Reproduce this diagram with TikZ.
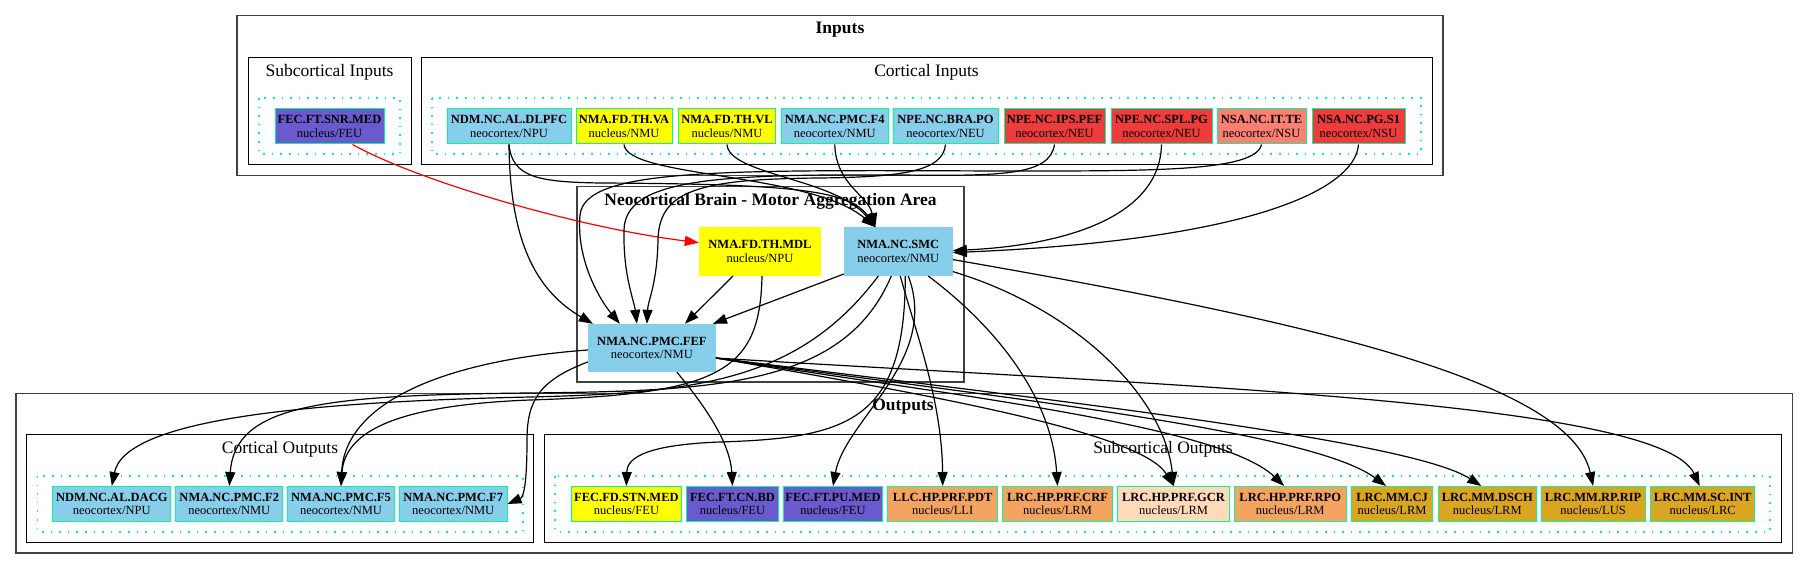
\documentclass[tikz,border=0pt]{standalone}
\usepackage{fontspec}
\setmainfont{Liberation Serif}
\usetikzlibrary{arrows.meta,calc}
\definecolor{skyb}{HTML}{87CEEB}
\definecolor{yel}{HTML}{FFFF00}
\definecolor{slb}{HTML}{6A5ACD}
\definecolor{rd}{HTML}{EE3B3B}
\definecolor{salm}{HTML}{FA8072}
\definecolor{sandy}{HTML}{F4A460}
\definecolor{peach}{HTML}{FFDAB9}
\definecolor{gold}{HTML}{DAA520}
\definecolor{sprg}{HTML}{00FA9A}
\begin{document}
\begin{tikzpicture}[x=1pt,y=-1pt,
  nbox/.style={draw=sprg, line width=1pt, inner sep=0pt, align=center, font=\fontsize{12.5}{13.5}\selectfont, minimum height=35pt},
  cbox/.style={inner sep=0pt, align=center, font=\fontsize{12.5}{13.5}\selectfont, minimum height=48.5pt},
  clus/.style={draw=black, line width=1pt},
  outer/.style={draw=black!75, line width=1.6pt},
  dotc/.style={draw=sprg, line width=1.6pt, dash pattern=on 1.6pt off 7pt},
  ctitle/.style={font=\fontsize{17.5}{17.5}\selectfont, inner sep=0pt},
  btitle/.style={font=\bfseries\fontsize{17.5}{17.5}\selectfont, inner sep=0pt},
  edge/.style={draw=black, line width=1.2pt, -{Triangle[length=14pt,width=10pt]}},
]
\useasboundingbox[fill=white] (0,0) rectangle (1808,569);
% clusters
\draw[outer] (237,15.7) rectangle (1443,175.7);
\node[btitle] (tin) at (840,30) {Inputs};
\draw[clus] (248,57.3) rectangle (411,165);
\node[ctitle] (tsi) at (329.5,72) {Subcortical Inputs};
\draw[dotc] (259,98) rectangle (400,154);
\draw[clus] (421,57.3) rectangle (1432,165);
\node[ctitle] (tci) at (926.5,72) {Cortical Inputs};
\draw[dotc] (432,98) rectangle (1421,154);
\draw[outer] (577,186.7) rectangle (964,382);
\node[btitle] (tmid) at (770.5,201) {Neocortical Brain - Motor Aggregation Area};
\draw[outer] (16,393.3) rectangle (1792.5,553);
\node[btitle] (tout) at (903,407) {Outputs};
\draw[clus] (26.8,434.3) rectangle (533,542.7);
\node[ctitle] (tco) at (280,449.3) {Cortical Outputs};
\draw[dotc] (37.5,476) rectangle (523,531.7);
\draw[clus] (544.5,434.3) rectangle (1781.5,542.7);
\node[ctitle] (tso) at (1163,449.3) {Subcortical Outputs};
\draw[dotc] (555,476) rectangle (1770,531.7);
% input nodes
\node[nbox, fill=slb, minimum width=109pt] (snr) at (329.5,126.5) {\textbf{FEC.FT.SNR.MED}\\nucleus/FEU};
\node[nbox, fill=skyb, minimum width=124pt] (dlpfc) at (509,126.5) {\textbf{NDM.NC.AL.DLPFC}\\neocortex/NPU};
\node[nbox, fill=yel, minimum width=96pt] (va) at (624,126.5) {\textbf{NMA.FD.TH.VA}\\nucleus/NMU};
\node[nbox, fill=yel, minimum width=96.5pt] (vl) at (727,126.5) {\textbf{NMA.FD.TH.VL}\\nucleus/NMU};
\node[nbox, fill=skyb, minimum width=107.5pt] (f4) at (834.75,126.5) {\textbf{NMA.NC.PMC.F4}\\neocortex/NMU};
\node[nbox, fill=skyb, minimum width=105pt] (brapo) at (945.5,126.5) {\textbf{NPE.NC.BRA.PO}\\neocortex/NEU};
\node[nbox, fill=rd, minimum width=101pt] (ipspef) at (1054.5,126.5) {\textbf{NPE.NC.IPS.PEF}\\neocortex/NEU};
\node[nbox, fill=rd, minimum width=101pt] (splpg) at (1161.5,126.5) {\textbf{NPE.NC.SPL.PG}\\neocortex/NEU};
\node[nbox, fill=salm, minimum width=89pt] (itte) at (1261.5,126.5) {\textbf{NSA.NC.IT.TE}\\neocortex/NSU};
\node[nbox, fill=rd, minimum width=93pt] (pgs1) at (1358.5,126.5) {\textbf{NSA.NC.PG.S1}\\neocortex/NSU};
% middle nodes
\node[cbox, fill=yel, minimum width=122pt] (mdl) at (760,251.6) {\textbf{NMA.FD.TH.MDL}\\nucleus/NPU};
\node[cbox, fill=skyb, minimum width=108.7pt] (smc) at (898.3,251.6) {\textbf{NMA.NC.SMC}\\neocortex/NMU};
\node[cbox, fill=skyb, minimum width=127.7pt, minimum height=48pt] (fef) at (651.9,348) {\textbf{NMA.NC.PMC.FEF}\\neocortex/NMU};
% output nodes
\node[nbox, fill=skyb, minimum width=117.8pt] (dacg) at (111.8,504) {\textbf{NDM.NC.AL.DACG}\\neocortex/NPU};
\node[nbox, fill=skyb, minimum width=107.2pt] (f2) at (229.3,504) {\textbf{NMA.NC.PMC.F2}\\neocortex/NMU};
\node[nbox, fill=skyb, minimum width=107.1pt] (f5) at (341,504) {\textbf{NMA.NC.PMC.F5}\\neocortex/NMU};
\node[nbox, fill=skyb, minimum width=107.7pt] (f7) at (453.2,504) {\textbf{NMA.NC.PMC.F7}\\neocortex/NMU};
\node[nbox, fill=yel, minimum width=109.8pt] (stn) at (626.4,504) {\textbf{FEC.FD.STN.MED}\\nucleus/FEU};
\node[nbox, fill=slb, minimum width=92.5pt] (cnbd) at (732.5,504) {\textbf{FEC.FT.CN.BD}\\nucleus/FEU};
\node[nbox, fill=slb, minimum width=98.7pt] (pumed) at (833,504) {\textbf{FEC.FT.PU.MED}\\nucleus/FEU};
\node[nbox, fill=sandy, minimum width=109.9pt] (pdt) at (942.7,504) {\textbf{LLC.HP.PRF.PDT}\\nucleus/LLI};
\node[nbox, fill=sandy, minimum width=109.9pt] (crf) at (1057.5,504) {\textbf{LRC.HP.PRF.CRF}\\nucleus/LRM};
\node[nbox, fill=peach, minimum width=112.3pt] (gcr) at (1173.6,504) {\textbf{LRC.HP.PRF.GCR}\\nucleus/LRM};
\node[nbox, fill=sandy, minimum width=111.9pt] (rpo) at (1290.2,504) {\textbf{LRC.HP.PRF.RPO}\\nucleus/LRM};
\node[nbox, fill=gold, minimum width=80.5pt] (cj) at (1392.1,504) {\textbf{LRC.MM.CJ}\\nucleus/LRM};
\node[nbox, fill=gold, minimum width=97.7pt] (dsch) at (1487.3,504) {\textbf{LRC.MM.DSCH}\\nucleus/LRM};
\node[nbox, fill=gold, minimum width=104.2pt] (rip) at (1593.1,504) {\textbf{LRC.MM.RP.RIP}\\nucleus/LUS};
\node[nbox, fill=gold, minimum width=103.7pt] (scint) at (1702.7,504) {\textbf{LRC.MM.SC.INT}\\nucleus/LRC};
\coordinate (smcin) at ($(smc.north)+(-23,0)$);
% edges into middle
\draw[edge,red] ($(snr.south)+(23,0)$) .. controls (420,182) and (580,228) .. ($(mdl.west)+(0,-9)$);
\draw[edge] (dlpfc.south) .. controls (510,240) and (535,290) .. ($(fef.north west)+(5,0)$);
\draw[edge] (dlpfc.south) .. controls (512,178) and (540,182) .. (600,183) .. controls (790,184) and (850,190) .. (smcin);
\draw[edge] (va.south) .. controls (627,178) and (810,172) .. (smcin);
\draw[edge] (vl.south) .. controls (729,175) and (835,178) .. (smcin);
\draw[edge] (f4.south) .. controls (836,185) and (868,195) .. (smcin);
\draw[edge] (brapo.south) .. controls (943,172) and (900,177) .. (820,178) .. controls (700,179) and (659,190) .. (658,240) .. controls (657,285) and (648,300) .. ($(fef.north)+(-5,0)$);
\draw[edge] (ipspef.south) .. controls (1050,176) and (1000,176) .. (900,175) .. controls (720,174) and (625,178) .. (624,230) .. controls (623,275) and (634,300) .. ($(fef.north)+(-15,0)$);
\draw[edge] (itte.south) .. controls (1256,172) and (1150,171) .. (1000,171) .. controls (720,170) and (585,168) .. (580,215) .. controls (576,260) and (600,300) .. ($(fef.north)+(-32,0)$);
\draw[edge] ($(mdl.south)+(-27,0)$) -- ($(fef.north)+(33,0)$);
\draw[edge] ($(smc.south west)+(0,-2)$) -- ($(fef.north east)+(-3,0)$);
\draw[edge] (splpg.south) .. controls (1160,215) and (1070,245) .. ($(smc.east)+(0,-1)$);
\draw[edge] (pgs1.south) .. controls (1355,190) and (1250,240) .. ($(smc.east)+(0,1)$);
% edges to outputs
\draw[edge] ($(smc.south)+(-20,0)$) .. controls (800,380) and (700,393) .. (530,397) .. controls (300,402) and (125,420) .. (dacg.north);
\draw[edge] ($(smc.south)+(-7,0)$) .. controls (845,385) and (720,391) .. (530,393) .. controls (320,395) and (235,405) .. (f2.north);
\draw[edge] ($(mdl.south)+(2,0)$) .. controls (760,372) and (720,394) .. (530,400) .. controls (400,405) and (345,430) .. (f5.north);
\draw[edge] ($(fef.west)+(0,2)$) .. controls (450,360) and (345,400) .. (f5.north);
\draw[edge] ($(fef.west)+(0,14)$) .. controls (540,380) and (527,400) .. (527,440) .. controls (527,482) and (524,497) .. (f7.east);
\draw[edge] ($(fef.south)+(25,0)$) .. controls (700,400) and (730,440) .. (cnbd.north);
\draw[edge] ($(fef.east)+(0,10)$) .. controls (900,390) and (1140,430) .. (gcr.north);
\draw[edge] ($(fef.east)+(0,10)$) .. controls (950,395) and (1220,425) .. ($(rpo.north)+(-6,0)$);
\draw[edge] ($(fef.east)+(0,10)$) .. controls (1000,398) and (1310,430) .. ($(cj.north)+(-6,0)$);
\draw[edge] ($(fef.east)+(0,10)$) .. controls (1050,400) and (1410,440) .. ($(dsch.north)+(-6,0)$);
\draw[edge] ($(fef.east)+(0,10)$) .. controls (1150,385) and (1660,400) .. ($(scint.north)+(-3,0)$);
\draw[edge] ($(smc.south)+(7,0)$) .. controls (905,420) and (850,438) .. (720,442) .. controls (640,445) and (627,460) .. (stn.north);
\draw[edge] ($(smc.south)+(10,0)$) .. controls (940,360) and (845,420) .. (pumed.north);
\draw[edge] ($(smc.south)+(2,0)$) .. controls (915,330) and (942,400) .. (pdt.north);
\draw[edge] ($(smc.south)+(30,0)$) .. controls (1000,330) and (1052,400) .. (crf.north);
\draw[edge] ($(smc.east)+(0,20)$) .. controls (1080,310) and (1165,400) .. (gcr.north);
\draw[edge] ($(smc.east)+(0,8)$) .. controls (1300,320) and (1570,380) .. (rip.north);
\end{tikzpicture}
\end{document}
